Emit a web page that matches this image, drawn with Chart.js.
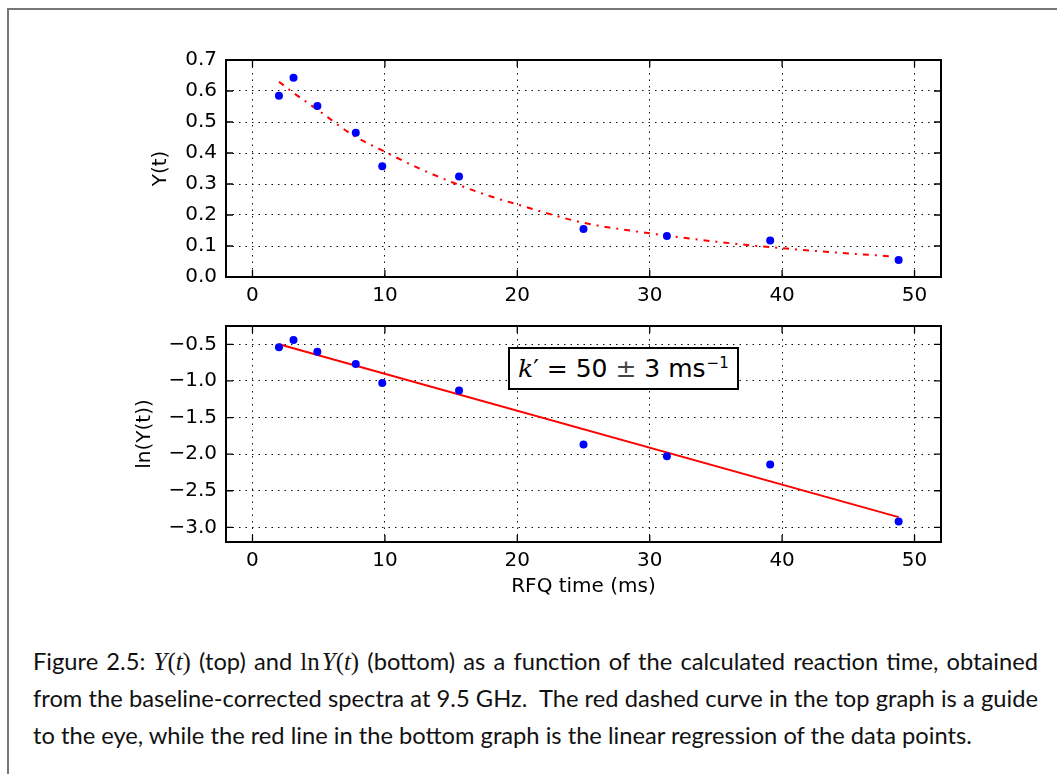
<!DOCTYPE html>
<html>
<head>
<meta charset="utf-8">
<title>Y(t) and ln Y(t) vs RFQ time</title>
<script src="https://cdn.jsdelivr.net/npm/chart.js@4.4.1/dist/chart.umd.min.js"></script>
<style>
    html, body { margin: 0; padding: 0; background: #fff; width: 1057px; height: 774px; overflow: hidden; }
    #frame { position: absolute; left: 7px; top: 8px; width: 1200px; height: 900px;
             border-left: 2px solid #777; border-top: 2px solid #777; }
    canvas { position: absolute; left: 0; }
    #topCanvas { top: 0; }
    #bottomCanvas { top: 305px; }
    #kbox { position: absolute; left: 508px; top: 347px; width: 231px; height: 43px; box-sizing: border-box;
            border: 2px solid #000; background: #fff; font-family: "DejaVu Sans", sans-serif; font-size: 25px;
            display: flex; align-items: center; padding-left: 8px; white-space: nowrap; color: #000; }
    #kbox .k { font-family: "DejaVu Serif", serif; font-style: italic; }
    #kbox .pm { color: #444; }
    #kbox sup { font-size: 15px; position: relative; top: -6px; vertical-align: baseline; margin-left: 1px; }
    #caption { position: absolute; left: 33px; width: 1005px; top: 643px; font-family: Lato, "Open Sans", sans-serif;
               font-size: 23.7px; color: #111; }
    #caption div { height: 37px; line-height: 37px; }
    #caption .just { text-align: justify; text-align-last: justify; }
    .m { font-family: "Liberation Serif", serif; font-size: 1.05em; }
    .i { font-style: italic; }
</style>
</head>
<body>
<div id="frame"></div>
<canvas id="topCanvas" width="1057" height="305"></canvas>
<canvas id="bottomCanvas" width="1057" height="320"></canvas>
<div id="kbox"><span class="k">k</span>′&nbsp;= 50 <span class="pm">&nbsp;±&nbsp;</span> 3 ms<sup>−1</sup></div>
<div id="caption">
    <div class="just">Figure 2.5: <span class="m i">Y</span><span class="m">(</span><span class="m i">t</span><span class="m">)</span> (top) and <span class="m">ln</span><span class="m i">&#8202;Y</span><span class="m">(</span><span class="m i">t</span><span class="m">)</span> (bottom) as a function of the calculated reaction time, obtained</div>
    <div class="just">from the baseline-corrected spectra at 9.5 GHz.&nbsp; The red dashed curve in the top graph is a guide</div>
    <div>to the eye, while the red line in the bottom graph is the linear regression of the data points.</div>
</div>
<script>
// --- 데이터 ---
const rfqTimes = [2.0, 3.1, 4.9, 7.8, 9.8, 15.6, 25.0, 31.3, 39.1, 48.8];
const yValues = [0.585, 0.643, 0.552, 0.465, 0.357, 0.324, 0.155, 0.132, 0.118, 0.055];
const lnYValues = [-0.54, -0.44, -0.60, -0.77, -1.03, -1.13, -1.87, -2.03, -2.14, -2.92];

// guide-to-the-eye curve (top graph)
const guideX = [2.0, 3.0, 5.0, 7.5, 10, 12.5, 15, 17.5, 20, 25, 30, 35, 40, 45, 48.5];
const guideY = [0.630, 0.597, 0.537, 0.460, 0.404, 0.352, 0.307, 0.267, 0.234, 0.175, 0.141, 0.114, 0.093, 0.076, 0.066];

// linear regression (bottom graph) end points
const fitX = [2.0, 48.8];
const fitY = [-0.50, -2.86];

// tick labels
const xTicks = [0, 10, 20, 30, 40, 50];
const topYTicks = [0.0, 0.1, 0.2, 0.3, 0.4, 0.5, 0.6, 0.7];
const bottomYTicks = [-3.0, -2.5, -2.0, -1.5, -1.0, -0.5];

const FONT = { family: '"DejaVu Sans", sans-serif', size: 20 };

// matplotlib 스타일: 안쪽 눈금 + 테두리 박스
const frameTicks = {
    id: 'frameTicks',
    afterDraw(chart) {
        const { ctx, chartArea: a, scales: { x, y } } = chart;
        ctx.save();
        ctx.strokeStyle = '#000';
        ctx.lineWidth = 1.3;
        ctx.beginPath();
        x.ticks.forEach(t => {
            const px = x.getPixelForValue(t.value);
            ctx.moveTo(px, a.bottom); ctx.lineTo(px, a.bottom - 7);
            ctx.moveTo(px, a.top); ctx.lineTo(px, a.top + 7);
        });
        y.ticks.forEach(t => {
            const py = y.getPixelForValue(t.value);
            ctx.moveTo(a.left, py); ctx.lineTo(a.left + 7, py);
            ctx.moveTo(a.right, py); ctx.lineTo(a.right - 7, py);
        });
        ctx.stroke();
        ctx.lineWidth = 2;
        ctx.strokeRect(a.left, a.top, a.right - a.left, a.bottom - a.top);
        ctx.restore();
    }
};

const fmtNum = v => v.toFixed(1).replace('-', '\u2212');

function xScale(height, withTitle) {
    return {
        type: 'linear', min: -2, max: 52,
        afterBuildTicks: s => { s.ticks = xTicks.map(v => ({ value: v })); },
        afterFit: s => { s.height = height; },
        grid: { color: '#111', lineWidth: 1, drawTicks: false },
        border: { display: false, dash: [1.5, 5] },
        ticks: { color: '#000', font: FONT, padding: 7, maxRotation: 0, callback: v => String(v) },
        title: { display: withTitle, text: 'RFQ time (ms)', color: '#000', font: FONT, padding: { top: 2, bottom: 4 } }
    };
}

function yScale(min, max, tickVals, width, title) {
    return {
        type: 'linear', min: min, max: max,
        afterBuildTicks: s => { s.ticks = tickVals.map(v => ({ value: v })); },
        afterFit: s => { s.width = width; },
        grid: { color: '#111', lineWidth: 1, drawTicks: false },
        border: { display: false, dash: [1.5, 5] },
        ticks: { color: '#000', font: FONT, padding: 9, callback: v => fmtNum(v) },
        title: { display: true, text: title, color: '#000', font: FONT }
    };
}

const toPts = (xs, ys) => xs.map((v, i) => ({ x: v, y: ys[i] }));

// 상단 그래프: Y(t)
new Chart(document.getElementById('topCanvas'), {
    type: 'scatter',
    data: {
        datasets: [
            {
                data: toPts(rfqTimes, yValues),
                backgroundColor: '#0000ff', borderWidth: 0, pointRadius: 4, order: 0
            },
            {
                data: toPts(guideX, guideY),
                showLine: true, pointRadius: 0, borderColor: '#ff0000', borderWidth: 2,
                borderDash: [6, 6, 2, 6], cubicInterpolationMode: 'monotone', order: 1
            }
        ]
    },
    options: {
        responsive: false, animation: false,
        layout: { padding: { left: 145, right: 116, top: 60, bottom: 0 } },
        plugins: { legend: { display: false }, tooltip: { enabled: false } },
        scales: {
            x: xScale(28, false),
            y: yScale(0, 0.7, topYTicks, 81, 'Y(t)')
        }
    },
    plugins: [frameTicks]
});

// 하단 그래프: ln(Y(t)) + 선형 회귀
new Chart(document.getElementById('bottomCanvas'), {
    type: 'scatter',
    data: {
        datasets: [
            {
                data: toPts(rfqTimes, lnYValues),
                backgroundColor: '#0000ff', borderWidth: 0, pointRadius: 4, order: 0
            },
            {
                data: toPts(fitX, fitY),
                showLine: true, pointRadius: 0, borderColor: '#ff0000', borderWidth: 2, order: 1
            }
        ]
    },
    options: {
        responsive: false, animation: false,
        layout: { padding: { left: 129, right: 116, top: 15, bottom: 22 } },
        plugins: { legend: { display: false }, tooltip: { enabled: false } },
        scales: {
            x: xScale(61, true),
            y: yScale(-3.2, -0.25, bottomYTicks, 97, 'ln(Y(t))')
        }
    },
    plugins: [frameTicks]
});
</script>
</body>
</html>
